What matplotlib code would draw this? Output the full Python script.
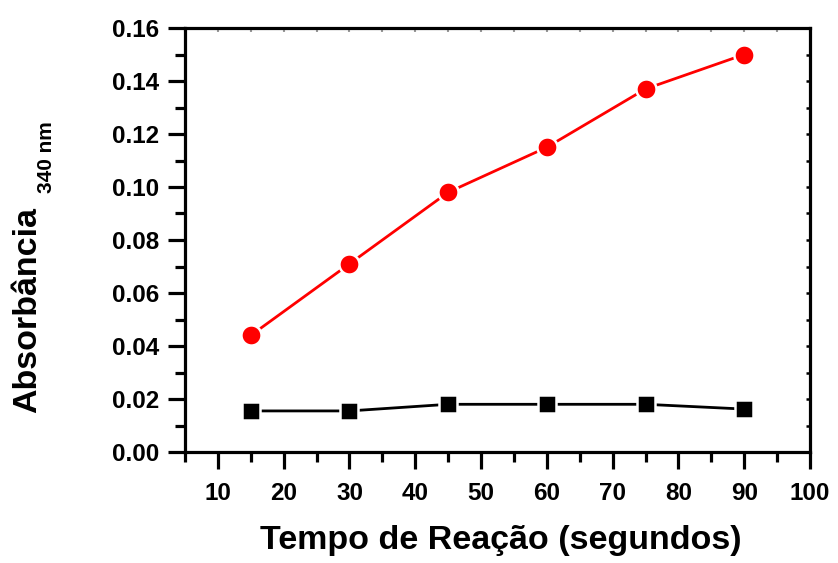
import numpy as np
import matplotlib
matplotlib.use("Agg")
import matplotlib.pyplot as plt
from matplotlib.ticker import MultipleLocator

# Reaction time (s) and absorbance readings at 340 nm
tempo = [15, 30, 45, 60, 75, 90]
abs_amostra = [0.044, 0.071, 0.098, 0.115, 0.137, 0.150]
abs_controle = [0.0155, 0.0155, 0.018, 0.018, 0.018, 0.0162]

x_ticks = [10, 20, 30, 40, 50, 60, 70, 80, 90, 100]
y_ticks = [0.00, 0.02, 0.04, 0.06, 0.08, 0.10, 0.12, 0.14, 0.16]

plt.rcParams["font.family"] = ["Liberation Sans", "DejaVu Sans"]
plt.rcParams["font.weight"] = "bold"

fig = plt.figure(figsize=(8.38, 5.63), dpi=100)
ax = fig.add_axes([185 / 838, 1 - 452 / 563, 625 / 838, 424 / 563])

ax.plot(tempo, abs_amostra, "-o", color="#ff0000", lw=2.0, ms=14.5,
        mec="white", mew=1.8, zorder=3)
ax.plot(tempo, abs_controle, "-s", color="black", lw=2.0, ms=13,
        mec="white", mew=1.8, zorder=3)

ax.set_xlim(5, 100)
ax.set_ylim(0, 0.16)
ax.set_xticks(x_ticks)
ax.set_yticks(y_ticks)
ax.set_xticklabels([str(v) for v in x_ticks])
ax.set_yticklabels([f"{v:.2f}" for v in y_ticks])
ax.xaxis.set_minor_locator(MultipleLocator(5))
ax.yaxis.set_minor_locator(MultipleLocator(0.01))

for s in ax.spines.values():
    s.set_linewidth(2.3)
ax.tick_params(which="major", direction="out", length=12.5, width=2.3,
               labelsize=17.5, pad=6)
ax.tick_params(which="minor", direction="out", length=7, width=2.3)
ax.tick_params(axis="x", pad=9)

# short inward ticks along the top and right edges
top = ax.secondary_xaxis("top")
top.xaxis.set_major_locator(MultipleLocator(5))
top.tick_params(direction="in", length=3, width=1.5, labeltop=False, color="#999999")
top.spines["top"].set_visible(False)
right = ax.secondary_yaxis("right")
right.yaxis.set_major_locator(MultipleLocator(0.01))
right.tick_params(direction="in", length=3, width=1.8, labelright=False)
right.spines["right"].set_visible(False)

for lab in ax.get_xticklabels() + ax.get_yticklabels():
    lab.set_fontweight("bold")

fig.text(501 / 838, 1 - 540 / 563, "Tempo de Reação (segundos)", ha="center",
         va="center", fontsize=24.5, fontweight="bold")
fig.text(28 / 838, 1 - 310 / 563, "Absorbância", rotation=90, ha="center",
         va="center", fontsize=24.5, fontweight="bold")
fig.text(46 / 838, 1 - 157 / 563, "340 nm", rotation=90, ha="center",
         va="center", fontsize=15, fontweight="bold")

fig.savefig("out.png", dpi=100)
